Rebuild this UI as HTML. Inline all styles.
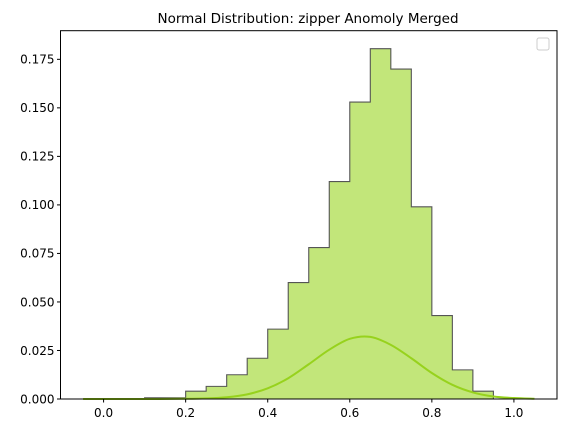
<!DOCTYPE html>
<html><head><meta charset="utf-8"><style>
body{margin:0;background:#fff;}
svg{display:block;font-family:"DejaVu Sans","Liberation Sans",sans-serif;}
</style></head><body>
<svg id="chart" width="565" height="433" viewBox="0 0 565 433">
<text x="308" y="23" font-size="13.5" text-anchor="middle" fill="#000">Normal Distribution: zipper Anomoly Merged</text>
<g id="bars"></g>
<g id="curve"></g>
<g id="xaxis"></g>
<g id="yaxis"></g>
<rect x="60.5" y="30.7" width="496.5" height="368.3" fill="none" stroke="#000" stroke-width="1"/>
<rect x="537" y="38" width="12" height="12" rx="2" fill="#fff" stroke="#ccc"/>
</svg>
<script>
const binEdges=[0.1,0.15,0.2,0.25,0.3,0.35,0.4,0.45,0.5,0.55,0.6,0.65,0.7,0.75,0.8,0.85,0.9,0.95];
const binHeights=[0.0006,0.0006,0.004,0.0065,0.0125,0.021,0.036,0.060,0.078,0.112,0.153,0.1805,0.170,0.099,0.043,0.015,0.004];
const curveX=[-0.05,0.0,0.1,0.2,0.25,0.3,0.35,0.4,0.45,0.5,0.55,0.6,0.65,0.7,0.75,0.8,0.85,0.9,0.95,1.0,1.05];
const curveY=[0,0,0,0.0001,0.0003,0.0009,0.0024,0.0055,0.0107,0.0179,0.0254,0.0310,0.0320,0.0279,0.021,0.0134,0.0073,0.0034,0.0013,0.0005,0.0001];
const xTicks=[0.0,0.2,0.4,0.6,0.8,1.0];
const xTickLabels=["0.0","0.2","0.4","0.6","0.8","1.0"];
const yTicks=[0,0.025,0.05,0.075,0.1,0.125,0.15,0.175];
const yTickLabels=["0.000","0.025","0.050","0.075","0.100","0.125","0.150","0.175"];
const NS="http://www.w3.org/2000/svg";
const X0=60.5,X1=557,Y0=399,Y1=30.7,xmin=-0.105,xmax=1.105,ymin=0,ymax=0.18975;
const xs=v=>X0+(v-xmin)/(xmax-xmin)*(X1-X0);
const ys=v=>Y0-(v-ymin)/(ymax-ymin)*(Y0-Y1);
function mk(t,a,p){const e=document.createElementNS(NS,t);for(const k in a)e.setAttribute(k,a[k]);p.appendChild(e);return e;}
const bars=document.getElementById('bars');
let d=`M${xs(binEdges[0])},${ys(0)}`;
for(let i=0;i<binHeights.length;i++){
 d+=`L${xs(binEdges[i])},${ys(binHeights[i])}L${xs(binEdges[i+1])},${ys(binHeights[i])}`;
}
d+=`L${xs(binEdges[binEdges.length-1])},${ys(0)}`;
const fillP=mk('path',{d:d+'Z',fill:'#c2e67a',stroke:'none'},bars);


const out=mk('path',{d:d,fill:'none',stroke:'#555',"stroke-width":1.1},bars);


const P=curveX.map((x,i)=>[xs(x),ys(curveY[i])]);
let cd=`M${P[0][0]},${P[0][1]}`;
for(let i=0;i<P.length-1;i++){
 const p0=P[Math.max(0,i-1)],p1=P[i],p2=P[i+1],p3=P[Math.min(P.length-1,i+2)];
 const c1=[p1[0]+(p2[0]-p0[0])/6,p1[1]+(p2[1]-p0[1])/6];
 const c2=[p2[0]-(p3[0]-p1[0])/6,p2[1]-(p3[1]-p1[1])/6];
 cd+=`C${c1[0]},${c1[1]} ${c2[0]},${c2[1]} ${p2[0]},${p2[1]}`;
}
const cp=mk('path',{d:cd,fill:'none',stroke:'#97d21d',"stroke-width":2},document.getElementById('curve'));


const xa=document.getElementById('xaxis');
xTicks.forEach((v,i)=>{
 const l=mk('line',{x1:xs(v),x2:xs(v),y1:Y0,y2:Y0+3.5,stroke:'#000'},xa);
 
 
 const t=mk('text',{x:xs(v),y:Y0+18,"font-size":"12","text-anchor":"middle"},xa);
 t.textContent=xTickLabels[i];
 
 
});
const ya=document.getElementById('yaxis');
yTicks.forEach((v,i)=>{
 const l=mk('line',{x1:X0-3.5,x2:X0,y1:ys(v),y2:ys(v),stroke:'#000'},ya);
 
 
 const t=mk('text',{x:X0-6,y:ys(v)+4.3,"font-size":"12","text-anchor":"end"},ya);
 t.textContent=yTickLabels[i];
 
 
});
</script>
</body></html>
